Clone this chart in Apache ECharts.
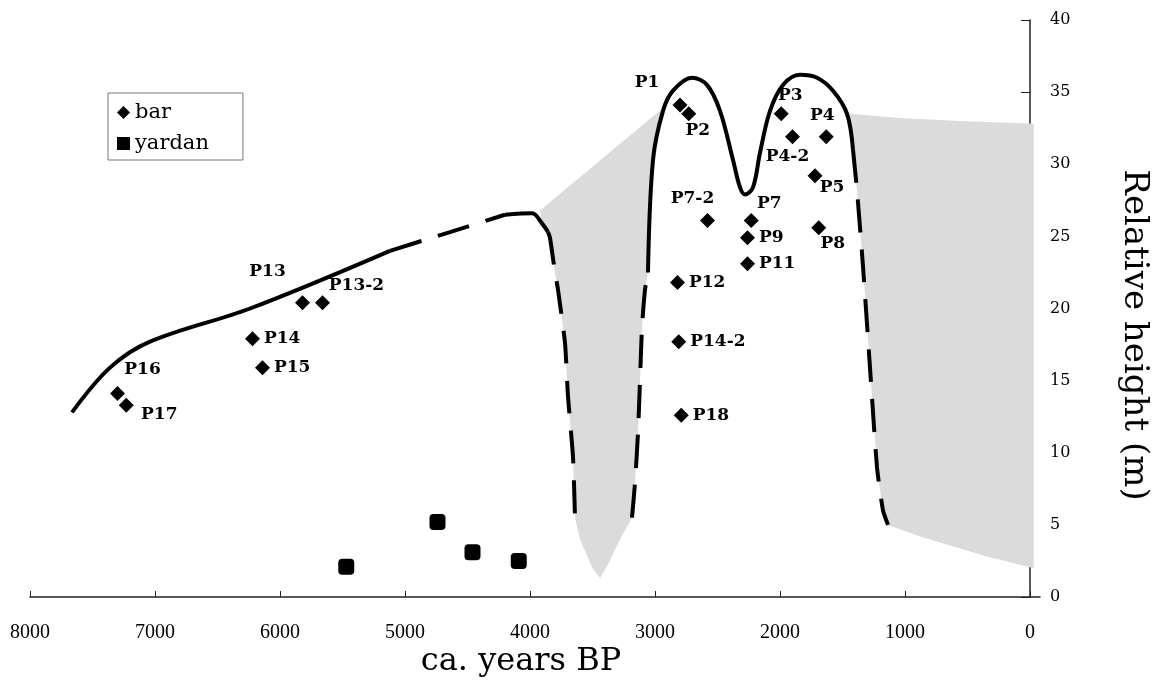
<!DOCTYPE html>
<html><head><meta charset="utf-8">
<script src="https://cdn.jsdelivr.net/npm/echarts@6/dist/echarts.min.js"></script>
<style>html,body{margin:0;padding:0;background:#fff}#c{width:1163px;height:681px}</style>
</head><body><div id="c"></div>
<script>
// ---- data ----
const barNames   = ['P1','P2','P3','P4','P4-2','P5','P7-2','P7','P9','P11','P8','P12','P14-2','P18','P13','P13-2','P14','P15','P16','P17'];
const barYears   = [2800,2730,1990,1630,1900,1720,2580,2230,2260,2260,1690,2820,2810,2790,5820,5660,6220,6140,7300,7230];
const barHeights = [34.1,33.5,33.5,31.9,31.9,29.2,26.1,26.1,24.9,23.1,25.6,21.8,17.7,12.6,20.4,20.4,17.9,15.9,14.1,13.3];
const yardanYears   = [5470,4740,4460,4090];
const yardanHeights = [2.1,5.2,3.1,2.5];
const xTicks = [0,1000,2000,3000,4000,5000,6000,7000,8000];
const yTicks = [0,5,10,15,20,25,30,35,40];
const xTitle = 'ca. years BP';
const yTitle = 'Relative height (m)';

// envelope curves [year, height]
const leftSolid   = [[7664,12.8],[7360,15.9],[7040,17.7],[6240,20.0],[5120,24.0]];
const leftDashed  = [[5120,24.0],[4640,25.3],[4200,26.5]];
const leftTop     = [[4200,26.5],[3984,26.6],[3904,25.9],[3856,25.3]];
const leftDown    = [[3856,25.3],[3840,24.9],[3800,22.5],[3776,21.3],[3720,17.6],[3696,13.9],[3656,9.7],[3640,5.5]];
const midLeftDash = [[3184,5.5],[3160,7.9],[3136,11.4],[3120,15.0],[3104,18.7],[3080,21.3],[3056,22.5]];
const midSolid    = [[3056,22.5],[3016,30.3],[2936,33.7],[2856,35.1],[2704,36.0],[2584,35.5],[2480,33.7],[2376,30.3],[2320,28.4],[2280,27.9],[2216,28.4],[2160,30.8],[2080,33.7],[1976,35.5],[1840,36.2],[1704,36.0],[1576,35.1],[1464,33.5],[1416,31.0]];
const midRightDash= [[1416,31.0],[1384,28.2],[1336,22.9],[1280,15.9],[1224,9.0],[1176,6.0],[1136,5.0]];

// shaded zones [year, height]
const greyLeft  = [[3920,26.8],[2936,33.9],[3016,30.3],[3056,22.5],[3080,21.3],[3104,18.7],[3120,15.0],[3136,11.4],[3160,7.9],[3184,5.5],[3280,4.0],[3380,2.2],[3440,1.3],[3500,2.0],[3600,4.0],[3640,5.5],[3656,9.7],[3696,13.9],[3720,17.6],[3776,21.3],[3800,22.5],[3840,24.9],[3904,25.9]];
const greyRight = [[1440,33.5],[1040,33.2],[560,33.0],[-30,32.8],[-30,2.0],[344,2.8],[880,4.2],[1136,5.0],[1176,6.0],[1224,9.0],[1280,15.9],[1336,22.9],[1384,28.2],[1416,31.0],[1436,32.5]];

// ---- styles ----
const labelOffsets = {
  'P1':[-33,-23],'P2':[9,17],'P3':[9,-18],'P4':[-4,-21],'P4-2':[-5,20],'P5':[17,12],
  'P7-2':[-15,-22],'P7':[18,-17],'P8':[14,16],'P13':[-35,-31],'P13-2':[34,-17],
  'P16':[25,-24],'P17':[33,9]
};
const INK = '#000';
const labelFont = {fontFamily:'DejaVu Serif', fontSize:17, fontWeight:'bold', color:INK};

function curve(data, dashed){
  return {type:'line', data:data, showSymbol:false, smooth: dashed ? 0.2 : 0.35, silent:true, z:3,
    lineStyle:{color:INK, width:4, type: dashed ? [33,17] : 'solid', cap:'butt'}};
}
function zone(pts){
  return {type:'custom', silent:true, z:1, data:[[0,0]], clip:true,
    renderItem:function(params, api){
      return {type:'polygon', shape:{points: pts.map(p=>api.coord(p))},
        style:{fill:'#dbdbdb', stroke:null}};
    }};
}

const barData = barNames.map((n,i)=>{
  const off = labelOffsets[n];
  const lab = off ? {show:true, position:'inside', offset:off, align:'center', verticalAlign:'middle'}
                  : {show:true, position:'right', distance:4};
  return {name:n, value:[barYears[i], barHeights[i]], label:lab};
});
const yardanData = yardanYears.map((y,i)=>[y, yardanHeights[i]]);

const chart = echarts.init(document.getElementById('c'), null, {renderer:'canvas'});
chart.setOption({
  backgroundColor:'#fff',
  animation:false,
  grid:{left:30, right:123, top:20, bottom:84, containLabel:false},
  legend:{
    orient:'vertical', left:108, top:93,
    data:[{name:'bar', icon:'diamond'},{name:'yardan', icon:'rect'}],
    itemWidth:13, itemHeight:13, itemGap:10,
    padding:[9,34,6,9], borderColor:'#777', borderWidth:1,
    textStyle:{fontFamily:'DejaVu Serif', fontSize:21, color:INK}
  },
  graphic:[
    {type:'text', x:521, y:662, silent:true,
      style:{text:xTitle, fontFamily:'DejaVu Serif', fontSize:32, fill:INK, align:'center', verticalAlign:'middle'}},
    {type:'text', x:1134, y:335, rotation:-Math.PI/2, silent:true,
      style:{text:yTitle, fontFamily:'DejaVu Serif', fontSize:34, fill:INK, align:'center', verticalAlign:'middle'}}
  ],
  xAxis:{
    type:'value', inverse:true, min:-80, max:8000,
    splitLine:{show:false},
    axisLine:{lineStyle:{color:'#222', width:1.5}},
    axisTick:{inside:true, length:6, lineStyle:{color:'#222'}, customValues:xTicks},
    axisLabel:{fontFamily:'Liberation Serif', fontSize:20, color:INK, margin:26, customValues:xTicks,
      formatter:function(v){return String(v);}}
  },
  yAxis:{
    type:'value', position:'right', min:yTicks[0], max:yTicks[yTicks.length-1], interval:5,
    splitLine:{show:false},
    axisLine:{show:true, lineStyle:{color:'#222', width:1.5}},
    axisTick:{show:true, inside:true, length:9, lineStyle:{color:'#222'}},
    axisLabel:{fontFamily:'DejaVu Serif', fontSize:16, color:INK, margin:10}
  },
  series:[
    zone(greyLeft), zone(greyRight),
    curve(leftSolid,false), curve(leftDashed,true), curve(leftTop,false), curve(leftDown,true),
    curve(midLeftDash,true), curve(midSolid,false), curve(midRightDash,true),
    {name:'bar', type:'scatter', symbol:'diamond', symbolSize:15, z:5, data:barData,
      itemStyle:{color:INK, opacity:1}, label:Object.assign({formatter:'{b}'}, labelFont)},
    {name:'yardan', type:'scatter', symbol:'roundRect', symbolSize:16, z:5, data:yardanData,
      itemStyle:{color:INK, opacity:1}}
  ]
});
</script></body></html>
